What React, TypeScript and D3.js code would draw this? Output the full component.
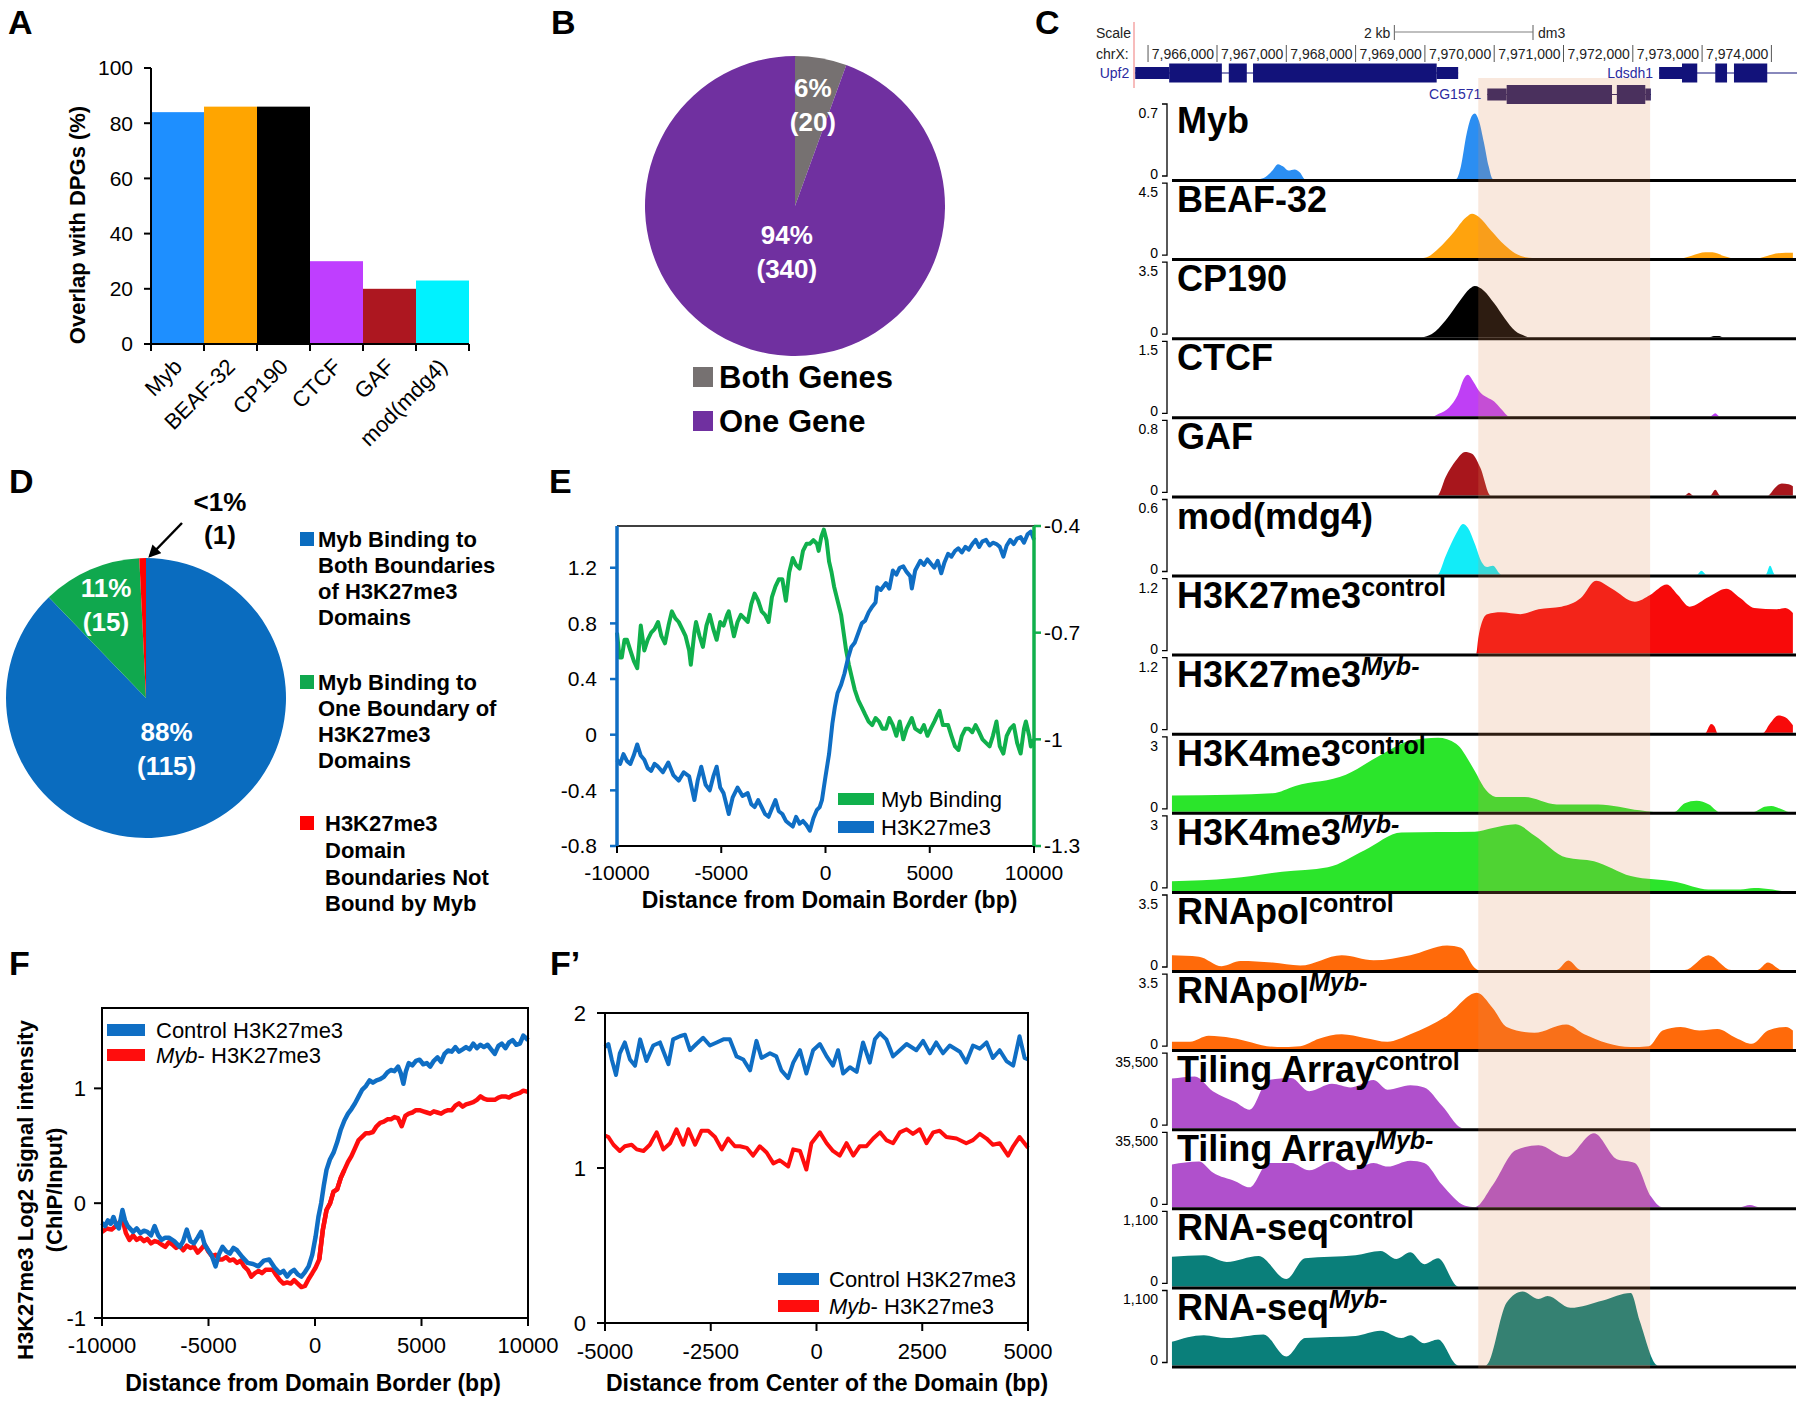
import React from "react";
import * as d3 from "d3";

const FONT = "'Liberation Sans', Arial, Helvetica, sans-serif";

// ---------------- Panel A ----------------
const aCategories = ["Myb", "BEAF-32", "CP190", "CTCF", "GAF", "mod(mdg4)"];
const aValues = [84, 86, 86, 30, 20, 23];
const aColors = ["#1e8fff", "#ffa500", "#000000", "#bf3eff", "#ad1720", "#00f2ff"];
const aTicks = [0, 20, 40, 60, 80, 100];

// ---------------- Panel B ----------------
const bCategories = ["Both Genes", "One Gene"];
const bCounts = [20, 340];
const bPercents = ["6%", "94%"];
const bColors = ["#767171", "#7030a0"];

// ---------------- Panel D ----------------
const dCategories = [
  ["Myb Binding to", "Both Boundaries", "of H3K27me3", "Domains"],
  ["Myb Binding to", "One Boundary of", "H3K27me3", "Domains"],
  ["H3K27me3", "Domain", "Boundaries Not", "Bound by Myb"],
];
const dCounts = [115, 15, 1];
const dPercents = ["88%", "11%", "<1%"];
const dColors = ["#0a6cbf", "#10a84e", "#ff0000"];

// ---------------- Panel C (genome browser) ----------------
const cOrigin = 7966000;
const cRulerTicks = [7966000, 7967000, 7968000, 7969000, 7970000, 7971000, 7972000, 7973000, 7974000];
const cRulerStart = 7965005;
const cScaleBarKb = 2;
const cHighlight = [3.77, 6.25];
const cGenes = [
  { name: "Upf2", row: 0, color: "#12127a", start: -1.18, end: 3.48, utr: [[-1.18, -0.69], [3.17, 3.48]], cds: [[-0.69, 0.07], [0.17, 0.43], [0.52, 3.17]] },
  { name: "CG1571", row: 1, color: "#25195f", start: 3.9, end: 6.26, utr: [[3.9, 4.18], [6.18, 6.26]], cds: [[4.18, 5.7], [5.77, 6.18]] },
  { name: "Ldsdh1", row: 0, color: "#12127a", start: 6.38, end: 8.38, utr: [[6.38, 6.71]], cds: [[6.71, 6.93], [7.19, 7.36], [7.46, 7.94]] },
];
const cTrackNames = ["Myb", "BEAF-32", "CP190", "CTCF", "GAF", "mod(mdg4)", "H3K27me3", "H3K27me3", "H3K4me3", "H3K4me3", "RNApol", "RNApol", "Tiling Array", "Tiling Array", "RNA-seq", "RNA-seq"];
const cTrackSups = ["", "", "", "", "", "", "control", "Myb-", "control", "Myb-", "control", "Myb-", "control", "Myb-", "control", "Myb-"];
const cTrackMax = [0.7, 4.5, 3.5, 1.5, 0.8, 0.6, 1.2, 1.2, 3, 3, 3.5, 3.5, 35500, 35500, 1100, 1100];
const cTrackMaxLabels = ["0.7", "4.5", "3.5", "1.5", "0.8", "0.6", "1.2", "1.2", "3", "3", "3.5", "3.5", "35,500", "35,500", "1,100", "1,100"];
const cTrackColors = ["#2b8ef2", "#ffa30d", "#000000", "#bf3ff5", "#a8161c", "#12ecf8", "#f80a0a", "#f80a0a", "#2be52b", "#2be52b", "#ff6a0a", "#ff6a0a", "#b050cc", "#b050cc", "#0a7f7a", "#0a7f7a"];

const cMyb = [[-0.65, 0], [0.6, 0], [0.7, 0.02], [0.8, 0.08], [0.88, 0.14], [0.95, 0.12], [1.03, 0.08], [1.12, 0.09], [1.2, 0.06], [1.27, 0], [3.45, 0], [3.52, 0.12], [3.6, 0.42], [3.68, 0.6], [3.72, 0.62], [3.78, 0.55], [3.85, 0.35], [3.92, 0.12], [3.98, 0], [8.31, 0]];
const cBEAF = [[-0.65, 0], [2.95, 0], [3.05, 0.1], [3.2, 0.6], [3.4, 1.5], [3.6, 2.5], [3.68, 2.7], [3.78, 2.5], [3.95, 1.7], [4.15, 0.8], [4.3, 0.3], [4.45, 0.05], [4.55, 0], [6.7, 0], [6.85, 0.15], [7.05, 0.35], [7.15, 0.35], [7.3, 0.15], [7.45, 0], [7.8, 0], [7.95, 0.15], [8.1, 0.3], [8.31, 0.32]];
const cCP190 = [[-0.65, 0], [2.95, 0], [3.1, 0.15], [3.3, 0.8], [3.5, 1.7], [3.65, 2.3], [3.72, 2.42], [3.85, 2.2], [4.0, 1.6], [4.15, 0.9], [4.3, 0.3], [4.45, 0.05], [4.5, 0], [7.1, 0], [7.17, 0.06], [7.25, 0.06], [7.3, 0], [8.31, 0]];
const cCTCF = [[-0.65, 0], [3.12, 0], [3.2, 0.05], [3.35, 0.18], [3.47, 0.42], [3.57, 0.78], [3.62, 0.84], [3.7, 0.7], [3.8, 0.48], [3.9, 0.38], [4.0, 0.3], [4.1, 0.15], [4.22, 0], [7.12, 0], [7.19, 0.06], [7.25, 0], [8.31, 0]];
const cGAF = [[-0.65, 0], [3.18, 0], [3.3, 0.2], [3.45, 0.38], [3.58, 0.47], [3.68, 0.45], [3.8, 0.3], [3.95, 0], [6.75, 0], [6.81, 0.03], [6.87, 0], [7.12, 0], [7.19, 0.06], [7.26, 0], [7.95, 0], [8.05, 0.08], [8.15, 0.13], [8.25, 0.12], [8.31, 0.1]];
const cMod = [[-0.65, 0], [3.18, 0], [3.3, 0.15], [3.45, 0.33], [3.55, 0.41], [3.62, 0.38], [3.72, 0.25], [3.82, 0.1], [3.9, 0.06], [3.98, 0.07], [4.1, 0], [6.93, 0], [6.99, 0.03], [7.06, 0], [7.92, 0], [7.98, 0.07], [8.05, 0], [8.31, 0]];
const cK27Ctrl = [[-0.65, 0], [3.74, 0], [3.77, 0.25], [3.82, 0.5], [3.9, 0.64], [4.1, 0.67], [4.38, 0.64], [4.64, 0.72], [4.97, 0.76], [5.25, 0.9], [5.47, 1.18], [5.7, 1.05], [6.03, 0.84], [6.25, 0.95], [6.49, 1.12], [6.65, 0.95], [6.82, 0.76], [7.1, 0.92], [7.35, 1.05], [7.55, 0.9], [7.75, 0.74], [8.08, 0.72], [8.2, 0.74], [8.31, 0.66]];
const cK27Myb = [[-0.65, 0], [7.05, 0], [7.1, 0.1], [7.13, 0.14], [7.18, 0.1], [7.22, 0], [7.88, 0], [7.98, 0.15], [8.1, 0.28], [8.2, 0.25], [8.31, 0.12]];
const cK4Ctrl = [[-0.65, 0.66], [0.2, 0.69], [0.8, 0.75], [1.13, 1.05], [1.86, 1.5], [2.33, 2.25], [2.79, 2.88], [3.19, 3.0], [3.45, 2.76], [3.72, 1.65], [3.85, 1.0], [4.05, 0.6], [4.44, 0.6], [4.9, 0.3], [5.5, 0.3], [6.1, 0.06], [6.3, 0], [6.6, 0], [6.75, 0.35], [6.92, 0.45], [7.1, 0.3], [7.25, 0], [7.75, 0], [7.9, 0.2], [8.0, 0.24], [8.15, 0.1], [8.25, 0], [8.31, 0]];
const cK4Myb = [[-0.65, 0.39], [0.21, 0.51], [0.94, 0.78], [1.6, 0.96], [2.13, 1.65], [2.66, 2.37], [3.72, 2.4], [3.98, 2.55], [4.31, 2.7], [4.58, 2.25], [5.04, 1.35], [5.44, 1.2], [5.97, 0.6], [6.63, 0.36], [7.09, 0.06], [7.55, 0.06], [7.75, 0.12], [8.02, 0.06], [8.15, 0], [8.31, 0]];
const cPolCtrl = [[-0.65, 0.7], [-0.26, 0.63], [0.07, 0.18], [0.34, 0.42], [0.8, 0.35], [1.2, 0.21], [1.8, 0.7], [2.26, 0.46], [2.79, 0.7], [3.32, 1.16], [3.52, 1.05], [3.72, 0.1], [3.78, 0], [4.9, 0], [5.07, 0.45], [5.25, 0], [6.75, 0], [7.09, 0.7], [7.42, 0], [7.8, 0], [7.95, 0.35], [8.15, 0], [8.31, 0]];
const cPolMyb = [[-0.65, 0.35], [-0.39, 0.35], [-0.12, 0.63], [0.21, 0.53], [0.87, 0.1], [1.2, 0.14], [1.47, 0.49], [1.8, 0.7], [2.13, 0.53], [2.46, 0.35], [2.79, 0.7], [3.32, 1.58], [3.75, 2.66], [3.98, 1.93], [4.18, 1.05], [4.58, 0.77], [5.04, 1.16], [5.3, 0.7], [5.97, 0.1], [6.23, 0.14], [6.43, 0.88], [6.69, 1.05], [6.96, 0.88], [7.22, 0.95], [7.49, 0.53], [7.72, 0.25], [7.95, 0.88], [8.21, 1.05], [8.31, 0.88]];
const cTileCtrl = [[-0.65, 23785], [-0.32, 24850], [-0.06, 17750], [0.27, 12425], [0.47, 8875], [0.74, 23075], [1.07, 24140], [1.33, 17750], [1.66, 21300], [1.93, 19525], [2.26, 23075], [2.46, 18460], [2.79, 20590], [2.99, 19525], [3.25, 10650], [3.55, 0], [8.31, 0]];
const cTileMyb = [[-0.65, 20590], [-0.26, 22010], [-0.06, 16685], [0.27, 12425], [0.47, 9585], [0.74, 21300], [1.07, 21300], [1.33, 17750], [1.66, 22010], [1.93, 17750], [2.26, 21300], [2.46, 19525], [2.79, 22365], [2.99, 21300], [3.25, 10650], [3.58, 710], [3.72, 0], [3.98, 10650], [4.31, 27335], [4.64, 29820], [5.04, 24140], [5.44, 35500], [5.77, 23075], [6.03, 21300], [6.26, 5325], [6.43, 0], [7.55, 0], [7.69, 1065], [7.82, 0], [8.31, 0]];
const cSeqCtrl = [[-0.65, 440], [-0.19, 462], [0.14, 363], [0.6, 451], [1.0, 110], [1.27, 418], [2.0, 462], [2.36, 528], [2.59, 407], [2.79, 506], [2.99, 330], [3.19, 418], [3.48, 0], [8.31, 0]];
const cSeqMyb = [[-0.65, 352], [-0.19, 451], [0.14, 407], [0.67, 462], [1.0, 132], [1.27, 407], [2.0, 440], [2.36, 517], [2.66, 407], [2.79, 451], [2.99, 330], [3.19, 385], [3.48, 0], [3.88, 0], [4.18, 935], [4.41, 1100], [4.64, 990], [4.77, 1034], [5.1, 858], [5.57, 968], [5.97, 1078], [6.1, 660], [6.36, 0], [8.31, 0]];
const cTrackData = [cMyb, cBEAF, cCP190, cCTCF, cGAF, cMod, cK27Ctrl, cK27Myb, cK4Ctrl, cK4Myb, cPolCtrl, cPolMyb, cTileCtrl, cTileMyb, cSeqCtrl, cSeqMyb];

// ---------------- Panel E ----------------
const eXTicks = [-10000, -5000, 0, 5000, 10000];
const eLeftTicks = [-0.8, -0.4, 0, 0.4, 0.8, 1.2];
const eRightTicks = [-1.3, -1, -0.7, -0.4];
const eSeriesNames = ["Myb Binding", "H3K27me3"];
const eH3K27me3 = [[-10000, -0.18], [-9850, -0.21], [-9690, -0.14], [-9520, -0.19], [-9360, -0.21], [-9200, -0.15], [-9030, -0.07], [-8860, -0.15], [-8690, -0.18], [-8530, -0.24], [-8360, -0.26], [-8200, -0.21], [-8030, -0.23], [-7800, -0.27], [-7540, -0.2], [-7300, -0.29], [-7040, -0.33], [-6800, -0.27], [-6540, -0.3], [-6420, -0.38], [-6290, -0.47], [-6130, -0.33], [-5960, -0.23], [-5750, -0.36], [-5550, -0.4], [-5380, -0.3], [-5220, -0.23], [-5050, -0.38], [-4890, -0.42], [-4640, -0.57], [-4450, -0.45], [-4220, -0.38], [-3980, -0.44], [-3730, -0.42], [-3560, -0.5], [-3400, -0.52], [-3230, -0.47], [-3060, -0.52], [-2900, -0.57], [-2730, -0.59], [-2570, -0.53], [-2400, -0.47], [-2240, -0.55], [-2070, -0.57], [-1900, -0.62], [-1740, -0.64], [-1570, -0.66], [-1410, -0.59], [-1240, -0.64], [-1080, -0.62], [-910, -0.65], [-750, -0.69], [-580, -0.6], [-410, -0.54], [-280, -0.52], [-170, -0.47], [-80, -0.38], [0, -0.3], [170, -0.14], [330, 0.08], [450, 0.2], [580, 0.3], [750, 0.36], [910, 0.44], [1080, 0.55], [1240, 0.63], [1400, 0.66], [1570, 0.73], [1740, 0.8], [1900, 0.82], [2070, 0.88], [2240, 0.92], [2400, 0.95], [2480, 1.06], [2650, 1.04], [2900, 1.09], [3060, 1.05], [3230, 1.18], [3400, 1.15], [3560, 1.2], [3730, 1.21], [3890, 1.17], [4060, 1.14], [4140, 1.05], [4300, 1.18], [4550, 1.25], [4720, 1.22], [4890, 1.26], [5050, 1.23], [5220, 1.2], [5380, 1.25], [5550, 1.16], [5710, 1.24], [5880, 1.3], [6040, 1.28], [6210, 1.32], [6370, 1.34], [6540, 1.31], [6710, 1.35], [6870, 1.33], [7040, 1.37], [7200, 1.4], [7370, 1.35], [7530, 1.39], [7700, 1.4], [7870, 1.36], [8030, 1.38], [8200, 1.37], [8360, 1.35], [8530, 1.28], [8690, 1.36], [8860, 1.4], [9030, 1.37], [9190, 1.41], [9360, 1.42], [9520, 1.38], [9690, 1.44], [9850, 1.46], [10000, 1.4]];
const eMybBinding = [[-10000, -0.7], [-9880, -0.77], [-9770, -0.77], [-9640, -0.72], [-9520, -0.72], [-9360, -0.75], [-9190, -0.78], [-9030, -0.8], [-8860, -0.68], [-8690, -0.75], [-8530, -0.72], [-8360, -0.7], [-8200, -0.69], [-8030, -0.67], [-7870, -0.71], [-7700, -0.73], [-7530, -0.68], [-7370, -0.64], [-7200, -0.66], [-7040, -0.67], [-6870, -0.69], [-6710, -0.71], [-6540, -0.75], [-6460, -0.79], [-6290, -0.7], [-6210, -0.67], [-6040, -0.71], [-5880, -0.74], [-5710, -0.68], [-5550, -0.65], [-5380, -0.69], [-5220, -0.72], [-5050, -0.67], [-4890, -0.68], [-4720, -0.65], [-4640, -0.64], [-4390, -0.71], [-4220, -0.67], [-4060, -0.65], [-3890, -0.66], [-3730, -0.67], [-3560, -0.62], [-3400, -0.59], [-3230, -0.61], [-3060, -0.64], [-2900, -0.65], [-2730, -0.67], [-2570, -0.6], [-2400, -0.57], [-2240, -0.55], [-2070, -0.55], [-1900, -0.61], [-1740, -0.53], [-1570, -0.49], [-1410, -0.51], [-1240, -0.52], [-1080, -0.47], [-910, -0.45], [-750, -0.45], [-580, -0.44], [-410, -0.45], [-330, -0.47], [-200, -0.43], [-80, -0.41], [50, -0.44], [170, -0.5], [290, -0.53], [410, -0.57], [580, -0.61], [750, -0.65], [870, -0.7], [990, -0.75], [1120, -0.79], [1240, -0.82], [1400, -0.86], [1570, -0.89], [1740, -0.91], [1900, -0.93], [2070, -0.95], [2240, -0.96], [2400, -0.94], [2570, -0.95], [2730, -0.97], [2900, -0.97], [3060, -0.94], [3230, -0.96], [3400, -0.99], [3560, -0.95], [3730, -1.0], [3890, -0.97], [4140, -0.94], [4300, -0.97], [4550, -0.98], [4720, -0.96], [4890, -0.99], [5050, -0.97], [5220, -0.95], [5380, -0.93], [5470, -0.92], [5630, -0.96], [5880, -0.96], [6040, -0.99], [6210, -1.02], [6380, -1.03], [6540, -0.99], [6710, -0.97], [6870, -0.97], [7040, -0.98], [7200, -0.96], [7370, -0.98], [7530, -1.0], [7700, -1.01], [7870, -1.02], [8030, -0.99], [8200, -0.95], [8360, -1.02], [8530, -1.04], [8690, -0.99], [8860, -0.97], [9030, -0.96], [9190, -1.01], [9360, -1.04], [9520, -0.97], [9610, -0.95], [9770, -0.99], [9850, -1.02], [10000, -1.0]];

// ---------------- Panel F ----------------
const fXTicks = [-10000, -5000, 0, 5000, 10000];
const fYTicks = [-1, 0, 1];
const fControl = [[-10000, -0.17], [-9860, -0.2], [-9720, -0.15], [-9590, -0.18], [-9460, -0.12], [-9330, -0.19], [-9210, -0.22], [-9040, -0.06], [-8920, -0.15], [-8790, -0.2], [-8540, -0.25], [-8370, -0.22], [-8200, -0.26], [-8030, -0.24], [-7870, -0.25], [-7700, -0.28], [-7530, -0.2], [-7360, -0.28], [-7200, -0.32], [-7030, -0.3], [-6860, -0.3], [-6610, -0.33], [-6350, -0.38], [-6190, -0.33], [-6020, -0.23], [-5850, -0.33], [-5680, -0.35], [-5510, -0.3], [-5350, -0.25], [-5180, -0.36], [-5010, -0.41], [-4840, -0.46], [-4670, -0.55], [-4500, -0.44], [-4340, -0.38], [-4170, -0.42], [-4000, -0.44], [-3830, -0.39], [-3660, -0.41], [-3410, -0.47], [-3160, -0.52], [-2910, -0.53], [-2660, -0.55], [-2400, -0.5], [-2150, -0.49], [-1900, -0.56], [-1650, -0.61], [-1480, -0.59], [-1310, -0.64], [-1140, -0.6], [-980, -0.58], [-810, -0.62], [-640, -0.64], [-470, -0.6], [-300, -0.55], [-130, -0.45], [30, -0.29], [160, -0.12], [290, 0.0], [410, 0.15], [540, 0.29], [700, 0.38], [870, 0.44], [1040, 0.53], [1210, 0.64], [1380, 0.72], [1550, 0.78], [1710, 0.82], [1880, 0.87], [2050, 0.93], [2220, 0.99], [2390, 1.02], [2560, 1.07], [2720, 1.05], [2890, 1.07], [3060, 1.08], [3230, 1.1], [3400, 1.14], [3560, 1.16], [3730, 1.15], [3900, 1.19], [4030, 1.13], [4150, 1.04], [4270, 1.15], [4400, 1.22], [4570, 1.2], [4740, 1.24], [4910, 1.25], [5080, 1.21], [5250, 1.22], [5410, 1.19], [5580, 1.24], [5750, 1.27], [5920, 1.23], [6080, 1.3], [6250, 1.33], [6420, 1.32], [6590, 1.36], [6760, 1.32], [6930, 1.34], [7090, 1.36], [7260, 1.34], [7430, 1.39], [7600, 1.35], [7770, 1.38], [7930, 1.36], [8100, 1.38], [8270, 1.34], [8440, 1.3], [8610, 1.37], [8770, 1.39], [8940, 1.35], [9110, 1.4], [9280, 1.42], [9450, 1.38], [9620, 1.39], [9780, 1.46], [9900, 1.44], [10000, 1.42]];
const fMyb = [[-10000, -0.25], [-9780, -0.22], [-9550, -0.23], [-9300, -0.19], [-9040, -0.14], [-8880, -0.26], [-8710, -0.32], [-8540, -0.28], [-8370, -0.32], [-8200, -0.3], [-8030, -0.33], [-7870, -0.31], [-7700, -0.35], [-7530, -0.33], [-7360, -0.34], [-7200, -0.36], [-7030, -0.38], [-6860, -0.34], [-6690, -0.36], [-6520, -0.39], [-6350, -0.37], [-6190, -0.41], [-6020, -0.37], [-5850, -0.39], [-5680, -0.38], [-5510, -0.43], [-5350, -0.4], [-5180, -0.36], [-5010, -0.42], [-4840, -0.46], [-4670, -0.45], [-4500, -0.49], [-4340, -0.49], [-4170, -0.47], [-4000, -0.5], [-3830, -0.49], [-3660, -0.52], [-3490, -0.5], [-3330, -0.55], [-3160, -0.58], [-2990, -0.64], [-2820, -0.61], [-2650, -0.59], [-2490, -0.61], [-2320, -0.58], [-2150, -0.58], [-1980, -0.58], [-1810, -0.63], [-1650, -0.67], [-1480, -0.7], [-1310, -0.69], [-1140, -0.7], [-980, -0.67], [-810, -0.7], [-640, -0.73], [-470, -0.72], [-300, -0.66], [-130, -0.61], [30, -0.56], [200, -0.49], [370, -0.23], [540, -0.06], [710, 0.0], [870, 0.1], [1040, 0.12], [1210, 0.22], [1380, 0.29], [1550, 0.36], [1710, 0.41], [1880, 0.48], [2050, 0.55], [2220, 0.58], [2390, 0.61], [2560, 0.61], [2720, 0.62], [2890, 0.67], [3060, 0.7], [3230, 0.71], [3400, 0.73], [3560, 0.73], [3730, 0.75], [3900, 0.74], [4070, 0.67], [4240, 0.76], [4400, 0.78], [4570, 0.79], [4740, 0.81], [4910, 0.81], [5080, 0.8], [5250, 0.79], [5410, 0.78], [5580, 0.8], [5750, 0.79], [5920, 0.78], [6090, 0.8], [6250, 0.81], [6420, 0.81], [6590, 0.85], [6760, 0.87], [6930, 0.84], [7090, 0.86], [7260, 0.87], [7430, 0.88], [7600, 0.9], [7770, 0.93], [7930, 0.91], [8100, 0.9], [8270, 0.9], [8440, 0.9], [8610, 0.92], [8780, 0.93], [8940, 0.93], [9110, 0.92], [9280, 0.94], [9450, 0.95], [9620, 0.96], [9780, 0.98], [10000, 0.97]];

// ---------------- Panel F' ----------------
const fpXTicks = [-5000, -2500, 0, 2500, 5000];
const fpYTicks = [0, 1, 2];
const fpControl = [[-5000, 1.78], [-4920, 1.8], [-4840, 1.7], [-4740, 1.6], [-4650, 1.74], [-4530, 1.81], [-4410, 1.7], [-4290, 1.66], [-4170, 1.83], [-4020, 1.69], [-3860, 1.79], [-3700, 1.81], [-3500, 1.67], [-3390, 1.83], [-3230, 1.85], [-3110, 1.86], [-2990, 1.76], [-2840, 1.8], [-2680, 1.84], [-2520, 1.79], [-2360, 1.81], [-2200, 1.83], [-2050, 1.83], [-1890, 1.72], [-1730, 1.7], [-1570, 1.63], [-1420, 1.82], [-1300, 1.71], [-1100, 1.74], [-950, 1.72], [-830, 1.63], [-670, 1.58], [-550, 1.68], [-390, 1.76], [-240, 1.61], [-80, 1.76], [80, 1.8], [240, 1.72], [390, 1.66], [510, 1.76], [630, 1.61], [790, 1.65], [950, 1.62], [1100, 1.81], [1260, 1.68], [1380, 1.83], [1500, 1.87], [1650, 1.83], [1810, 1.72], [1970, 1.76], [2130, 1.8], [2360, 1.76], [2520, 1.82], [2680, 1.74], [2830, 1.81], [2990, 1.74], [3150, 1.79], [3390, 1.75], [3540, 1.68], [3700, 1.79], [3860, 1.77], [4020, 1.81], [4170, 1.71], [4330, 1.76], [4490, 1.69], [4650, 1.66], [4800, 1.85], [4920, 1.71], [5000, 1.7]];
const fpMyb = [[-5000, 1.21], [-4920, 1.2], [-4800, 1.15], [-4650, 1.11], [-4530, 1.14], [-4370, 1.15], [-4250, 1.12], [-4090, 1.11], [-3940, 1.15], [-3780, 1.23], [-3620, 1.12], [-3460, 1.16], [-3310, 1.25], [-3150, 1.15], [-3030, 1.25], [-2870, 1.15], [-2720, 1.24], [-2560, 1.24], [-2400, 1.2], [-2240, 1.12], [-2090, 1.19], [-1930, 1.14], [-1810, 1.14], [-1650, 1.13], [-1500, 1.08], [-1340, 1.14], [-1180, 1.1], [-1020, 1.03], [-870, 1.05], [-670, 1.01], [-550, 1.12], [-390, 1.11], [-240, 0.99], [-120, 1.16], [80, 1.23], [240, 1.16], [390, 1.11], [550, 1.08], [710, 1.16], [870, 1.08], [1020, 1.14], [1180, 1.14], [1340, 1.19], [1500, 1.23], [1650, 1.18], [1810, 1.16], [1970, 1.23], [2130, 1.25], [2280, 1.22], [2440, 1.25], [2600, 1.16], [2760, 1.23], [2910, 1.24], [3070, 1.2], [3310, 1.19], [3540, 1.16], [3700, 1.18], [3860, 1.22], [4020, 1.19], [4170, 1.15], [4330, 1.16], [4530, 1.08], [4650, 1.14], [4800, 1.2], [5000, 1.13]];

const BLUE = "#0f6ec4";
const RED = "#ff0d0d";
const GREEN = "#10b04c";

function PanelLabel({ x, y, t }: { x: number; y: number; t: string }) {
  return <text x={x} y={y} fontSize={34} fontWeight="bold">{t}</text>;
}

function PanelA() {
  const x = d3.scaleBand().domain(aCategories).range([151, 469]).padding(0);
  const y = d3.scaleLinear().domain([0, 100]).range([344, 68]);
  const bw = x.bandwidth();
  const bounds = aCategories.map((c) => x(c) as number).concat([469]);
  return (
    <g>
      <PanelLabel x={8} y={34} t="A" />
      {aCategories.map((c, i) => (
        <rect key={c} x={x(c)} y={y(aValues[i])} width={bw} height={y(0) - y(aValues[i])} fill={aColors[i]} />
      ))}
      <line x1={151} x2={151} y1={y(100)} y2={y(0)} stroke="#000" strokeWidth={2} />
      <line x1={151} x2={469} y1={y(0)} y2={y(0)} stroke="#000" strokeWidth={2} />
      {aTicks.map((t) => (
        <g key={t}>
          <line x1={144} x2={151} y1={y(t)} y2={y(t)} stroke="#000" strokeWidth={2} />
          <text x={133} y={y(t)} dy="0.35em" textAnchor="end" fontSize={21}>{t}</text>
        </g>
      ))}
      {bounds.map((b, i) => (
        <line key={i} x1={b} x2={b} y1={y(0)} y2={y(0) + 7} stroke="#000" strokeWidth={2} />
      ))}
      {aCategories.map((c) => (
        <text key={c} transform={`translate(${(x(c) as number) + bw / 2 + 6},${368}) rotate(-45)`} textAnchor="end" fontSize={22}>{c}</text>
      ))}
      <text transform={`translate(85,225) rotate(-90)`} textAnchor="middle" fontSize={22} fontWeight="bold">Overlap with DPGs (%)</text>
    </g>
  );
}

function PanelB() {
  const cx = 795, cy = 206, r = 150;
  const arcs = d3.pie<number>().sort(null).value((d) => d)(bCounts);
  const arc = d3.arc<d3.PieArcDatum<number>>().innerRadius(0).outerRadius(r);
  const labelRadii = [103, 47];
  return (
    <g>
      <PanelLabel x={551} y={34} t="B" />
      <g transform={`translate(${cx},${cy})`}>
        {arcs.map((a, i) => <path key={i} d={arc(a) as string} fill={bColors[i]} />)}
        {arcs.map((a, i) => {
          const [lx, ly] = d3.arc<d3.PieArcDatum<number>>().innerRadius(labelRadii[i]).outerRadius(labelRadii[i]).centroid(a);
          return (
            <g key={i} fill="#fff" fontWeight="bold" fontSize={26} textAnchor="middle">
              <text x={lx} y={ly - 17} dy="0.35em">{bPercents[i]}</text>
              <text x={lx} y={ly + 17} dy="0.35em">({bCounts[i]})</text>
            </g>
          );
        })}
      </g>
      {bCategories.map((c, i) => (
        <g key={c}>
          <rect x={693} y={367 + i * 44} width={20} height={20} fill={bColors[i]} />
          <text x={719} y={377 + i * 44} dy="0.36em" fontSize={31} fontWeight="bold">{c}</text>
        </g>
      ))}
    </g>
  );
}

function PanelC() {
  const xC = d3.scaleLinear().domain([7966000, 7974000]).range([1217, 1771.4]);
  const kb = (k: number) => xC(cOrigin + k * 1000);
  const trackTop = 180, trackStep = 79.1;
  const rowY = [73, 94.5];
  const fmt = d3.format(",");
  const hx0 = kb(cHighlight[0]), hx1 = kb(cHighlight[1]);
  return (
    <g>
      <PanelLabel x={1035} y={34} t="C" />
      <g fontSize={14} fill="#222">
        <line x1={1134} x2={1134} y1={22} y2={88} stroke="#f4a6a6" strokeWidth={1.5} />
        <text x={1096} y={38}>Scale</text>
        <text x={kb(2.56) - 4} y={38} textAnchor="end">{cScaleBarKb} kb</text>
        <line x1={kb(2.56)} x2={kb(2.56 + cScaleBarKb)} y1={32} y2={32} stroke="#aaa" strokeWidth={1.5} />
        <line x1={kb(2.56)} x2={kb(2.56)} y1={25} y2={40} stroke="#777" strokeWidth={1.2} />
        <line x1={kb(2.56 + cScaleBarKb)} x2={kb(2.56 + cScaleBarKb)} y1={25} y2={40} stroke="#777" strokeWidth={1.2} />
        <text x={kb(2.56 + cScaleBarKb) + 5} y={38}>dm3</text>
        <text x={1096} y={59}>chrX:</text>
        <line x1={xC(cRulerStart)} x2={xC(cRulerStart)} y1={45} y2={62} stroke="#555" strokeWidth={1} />
        {cRulerTicks.map((t) => (
          <g key={t}>
            <line x1={xC(t)} x2={xC(t)} y1={45} y2={62} stroke="#555" strokeWidth={1} />
            <text x={xC(t) - 3} y={59} textAnchor="end">{fmt(t)}</text>
          </g>
        ))}
      </g>
      {cGenes.map((g) => {
        const yc = rowY[g.row];
        return (
          <g key={g.name}>
            <line x1={kb(g.start)} x2={Math.min(kb(g.end), 1797)} y1={yc} y2={yc} stroke={g.color} strokeWidth={1.2} />
            {g.utr.map((u, i) => (
              <rect key={"u" + i} x={kb(u[0])} y={yc - 6} width={kb(u[1]) - kb(u[0])} height={12} fill={g.color} />
            ))}
            {g.cds.map((u, i) => (
              <rect key={"c" + i} x={kb(u[0])} y={yc - 9.5} width={kb(u[1]) - kb(u[0])} height={19} fill={g.color} />
            ))}
            <text x={kb(g.start) - 6} y={yc} dy="0.35em" textAnchor="end" fontSize={14} fill="#2a2aa0">{g.name}</text>
          </g>
        );
      })}
      {cTrackData.map((data, i) => {
        const yb = trackTop + i * trackStep;
        const y = d3.scaleLinear().domain([0, cTrackMax[i]]).range([yb - 1, yb - 75]);
        const area = d3.area<number[]>().x((d) => kb(d[0])).y0(yb - 1).y1((d) => y(d[1])).curve(d3.curveMonotoneX);
        return (
          <g key={i}>
            <path d={area(data) as string} fill={cTrackColors[i]} />
            <line x1={1172} x2={1796} y1={yb + 0.5} y2={yb + 0.5} stroke="#000" strokeWidth={3} />
            <path d={`M1162,${yb - 76}H1167V${yb - 4}H1162`} fill="none" stroke="#000" strokeWidth={1.3} />
            <text x={1158} y={yb - 67} dy="0.35em" textAnchor="end" fontSize={14}>{cTrackMaxLabels[i]}</text>
            <text x={1158} y={yb - 6} dy="0.35em" textAnchor="end" fontSize={14}>0</text>
            <text x={1177} y={yb - 47} fontSize={36} fontWeight="bold">
              {cTrackNames[i]}
              {cTrackSups[i] && (
                <tspan dy={-12} fontSize={25} fontStyle={cTrackSups[i] === "Myb-" ? "italic" : "normal"}>{cTrackSups[i]}</tspan>
              )}
            </text>
          </g>
        );
      })}
      <rect x={hx0} y={78} width={hx1 - hx0} height={trackTop + 15 * trackStep + 2 - 78} fill="#e08c55" opacity={0.2} />
    </g>
  );
}

function PanelD() {
  const cx = 146, cy = 698, r = 140;
  const arcs = d3.pie<number>().sort(null).value((d) => d)(dCounts);
  const arc = d3.arc<d3.PieArcDatum<number>>().innerRadius(0).outerRadius(r);
  const labelRadii = [55, 101];
  const lineYs = [[539, 565, 591, 617], [682, 708, 734, 760], [823, 850, 877, 903]];
  return (
    <g>
      <PanelLabel x={9} y={493} t="D" />
      <defs>
        <marker id="arrowD" viewBox="0 0 10 10" refX="8" refY="5" markerWidth="5" markerHeight="5" orient="auto">
          <path d="M0,0 L10,5 L0,10 z" fill="#000" />
        </marker>
      </defs>
      <g transform={`translate(${cx},${cy})`}>
        {arcs.map((a, i) => <path key={i} d={arc(a) as string} fill={dColors[i]} />)}
        {arcs.slice(0, 2).map((a, i) => {
          const [lx, ly] = d3.arc<d3.PieArcDatum<number>>().innerRadius(labelRadii[i]).outerRadius(labelRadii[i]).centroid(a);
          return (
            <g key={i} fill="#fff" fontWeight="bold" fontSize={26} textAnchor="middle">
              <text x={lx} y={ly - 17} dy="0.35em">{dPercents[i]}</text>
              <text x={lx} y={ly + 17} dy="0.35em">({dCounts[i]})</text>
            </g>
          );
        })}
      </g>
      <g fontWeight="bold" fontSize={26} textAnchor="middle">
        <text x={220} y={502} dy="0.35em">{dPercents[2]}</text>
        <text x={220} y={535} dy="0.35em">({dCounts[2]})</text>
      </g>
      <line x1={182} y1={523} x2={150} y2={556} stroke="#000" strokeWidth={2.5} markerEnd="url(#arrowD)" />
      {dCategories.map((lines, i) => (
        <g key={i}>
          <rect x={300} y={lineYs[i][0] - 7} width={14} height={14} fill={dColors[i]} />
          {lines.map((l, j) => (
            <text key={j} x={i === 2 ? 325 : 318} y={lineYs[i][j]} dy="0.36em" fontSize={22} fontWeight="bold">{l}</text>
          ))}
        </g>
      ))}
    </g>
  );
}

function PanelE() {
  const x = d3.scaleLinear().domain([-10000, 10000]).range([617, 1034]);
  const yL = d3.scaleLinear().domain([-0.8, 1.5]).range([846, 526]);
  const yR = d3.scaleLinear().domain([-1.3, -0.4]).range([846, 526]);
  const lineL = d3.line<number[]>().x((d) => x(d[0])).y((d) => yL(d[1]));
  const lineR = d3.line<number[]>().x((d) => x(d[0])).y((d) => yR(d[1]));
  return (
    <g>
      <PanelLabel x={549} y={493} t="E" />
      <line x1={617} x2={1034} y1={526} y2={526} stroke="#000" strokeWidth={1.5} />
      <line x1={617} x2={1034} y1={846} y2={846} stroke="#000" strokeWidth={2} />
      <path d={lineR(eMybBinding) as string} fill="none" stroke={GREEN} strokeWidth={4} strokeLinejoin="round" />
      <path d={lineL(eH3K27me3) as string} fill="none" stroke={BLUE} strokeWidth={4} strokeLinejoin="round" />
      <line x1={617} x2={617} y1={526} y2={846} stroke={BLUE} strokeWidth={3.5} />
      <line x1={1034} x2={1034} y1={526} y2={846} stroke={GREEN} strokeWidth={3.5} />
      {eLeftTicks.map((t) => (
        <g key={t}>
          <line x1={610} x2={617} y1={yL(t)} y2={yL(t)} stroke={BLUE} strokeWidth={2.5} />
          <text x={597} y={yL(t)} dy="0.35em" textAnchor="end" fontSize={21}>{t}</text>
        </g>
      ))}
      {eRightTicks.map((t) => (
        <g key={t}>
          <line x1={1034} x2={1041} y1={yR(t)} y2={yR(t)} stroke={GREEN} strokeWidth={2.5} />
          <text x={1044} y={yR(t)} dy="0.35em" fontSize={21}>{t}</text>
        </g>
      ))}
      {eXTicks.map((t) => (
        <g key={t}>
          <line x1={x(t)} x2={x(t)} y1={846} y2={853} stroke="#000" strokeWidth={2} />
          <text x={x(t)} y={873} dy="0.35em" textAnchor="middle" fontSize={21}>{t}</text>
        </g>
      ))}
      <text x={(x(-10000) + x(10000)) / 2 + 4} y={900} dy="0.35em" textAnchor="middle" fontSize={23} fontWeight="bold">Distance from Domain Border (bp)</text>
      {[GREEN, BLUE].map((c, i) => (
        <g key={i}>
          <rect x={838} y={793 + i * 28} width={36} height={12} fill={c} />
          <text x={881} y={799 + i * 28} dy="0.35em" fontSize={22}>{eSeriesNames[i]}</text>
        </g>
      ))}
    </g>
  );
}

function LegendMyb({ x, y }: { x: number; y: number }) {
  return (
    <text x={x} y={y} dy="0.35em" fontSize={22}>
      <tspan fontStyle="italic">Myb</tspan>- H3K27me3
    </text>
  );
}

function PanelF() {
  const x = d3.scaleLinear().domain([-10000, 10000]).range([102, 528]);
  const y = d3.scaleLinear().domain([-1, 1.7]).range([1318, 1008]);
  const line = d3.line<number[]>().x((d) => x(d[0])).y((d) => y(d[1]));
  return (
    <g>
      <PanelLabel x={9} y={975} t="F" />
      <path d={line(fMyb) as string} fill="none" stroke={RED} strokeWidth={4.5} strokeLinejoin="round" />
      <path d={line(fControl) as string} fill="none" stroke={BLUE} strokeWidth={4.5} strokeLinejoin="round" />
      <path d={line(fMyb.filter((d) => d[0] > 100 && d[0] < 1400)) as string} fill="none" stroke={RED} strokeWidth={4.5} strokeLinejoin="round" />
      <rect x={102} y={1008} width={426} height={310} fill="none" stroke="#000" strokeWidth={2} />
      {fYTicks.map((t) => (
        <g key={t}>
          <line x1={94} x2={102} y1={y(t)} y2={y(t)} stroke="#000" strokeWidth={2} />
          <text x={86} y={y(t)} dy="0.35em" textAnchor="end" fontSize={22}>{t}</text>
        </g>
      ))}
      {fXTicks.map((t) => (
        <g key={t}>
          <line x1={x(t)} x2={x(t)} y1={1318} y2={1326} stroke="#000" strokeWidth={2} />
          <text x={x(t)} y={1345} dy="0.35em" textAnchor="middle" fontSize={22}>{t}</text>
        </g>
      ))}
      <text x={313} y={1383} dy="0.35em" textAnchor="middle" fontSize={23} fontWeight="bold">Distance from Domain Border (bp)</text>
      <text transform="translate(33,1190) rotate(-90)" textAnchor="middle" fontSize={22} fontWeight="bold">H3K27me3 Log2 Signal intensity</text>
      <text transform="translate(62,1190) rotate(-90)" textAnchor="middle" fontSize={22} fontWeight="bold">(ChIP/Input)</text>
      <rect x={107} y={1024} width={38} height={12} fill={BLUE} />
      <text x={156} y={1030} dy="0.35em" fontSize={22}>Control H3K27me3</text>
      <rect x={107} y={1049} width={38} height={12} fill={RED} />
      <LegendMyb x={156} y={1055} />
    </g>
  );
}

function PanelFp() {
  const x = d3.scaleLinear().domain([-5000, 5000]).range([605, 1028]);
  const y = d3.scaleLinear().domain([0, 2]).range([1323, 1013]);
  const line = d3.line<number[]>().x((d) => x(d[0])).y((d) => y(d[1]));
  return (
    <g>
      <PanelLabel x={550} y={975} t={"F\u2019"} />
      <path d={line(fpControl) as string} fill="none" stroke={BLUE} strokeWidth={4} strokeLinejoin="round" />
      <path d={line(fpMyb) as string} fill="none" stroke={RED} strokeWidth={4} strokeLinejoin="round" />
      <rect x={605} y={1013} width={423} height={310} fill="none" stroke="#000" strokeWidth={2} />
      {fpYTicks.map((t) => (
        <g key={t}>
          <line x1={597} x2={605} y1={y(t)} y2={y(t)} stroke="#000" strokeWidth={2} />
          <text x={586} y={y(t)} dy="0.35em" textAnchor="end" fontSize={22}>{t}</text>
        </g>
      ))}
      {fpXTicks.map((t) => (
        <g key={t}>
          <line x1={x(t)} x2={x(t)} y1={1323} y2={1331} stroke="#000" strokeWidth={2} />
          <text x={x(t)} y={1351} dy="0.35em" textAnchor="middle" fontSize={22}>{t}</text>
        </g>
      ))}
      <text x={827} y={1383} dy="0.35em" textAnchor="middle" fontSize={23} fontWeight="bold">Distance from Center of the Domain (bp)</text>
      <rect x={778} y={1273} width={41} height={12} fill={BLUE} />
      <text x={829} y={1279} dy="0.35em" fontSize={22}>Control H3K27me3</text>
      <rect x={778} y={1300} width={41} height={12} fill={RED} />
      <LegendMyb x={829} y={1306} />
    </g>
  );
}

export default function App() {
  const W = 1800, H = 1401;
  return (
    <svg width={W} height={H} viewBox={`0 0 ${W} ${H}`} style={{ position: "absolute", left: 0, top: 0, display: "block" }} fontFamily={FONT}>
      <rect width={W} height={H} fill="#fff" />
      <PanelA />
      <PanelB />
      <PanelC />
      <PanelD />
      <PanelE />
      <PanelF />
      <PanelFp />
    </svg>
  );
}
